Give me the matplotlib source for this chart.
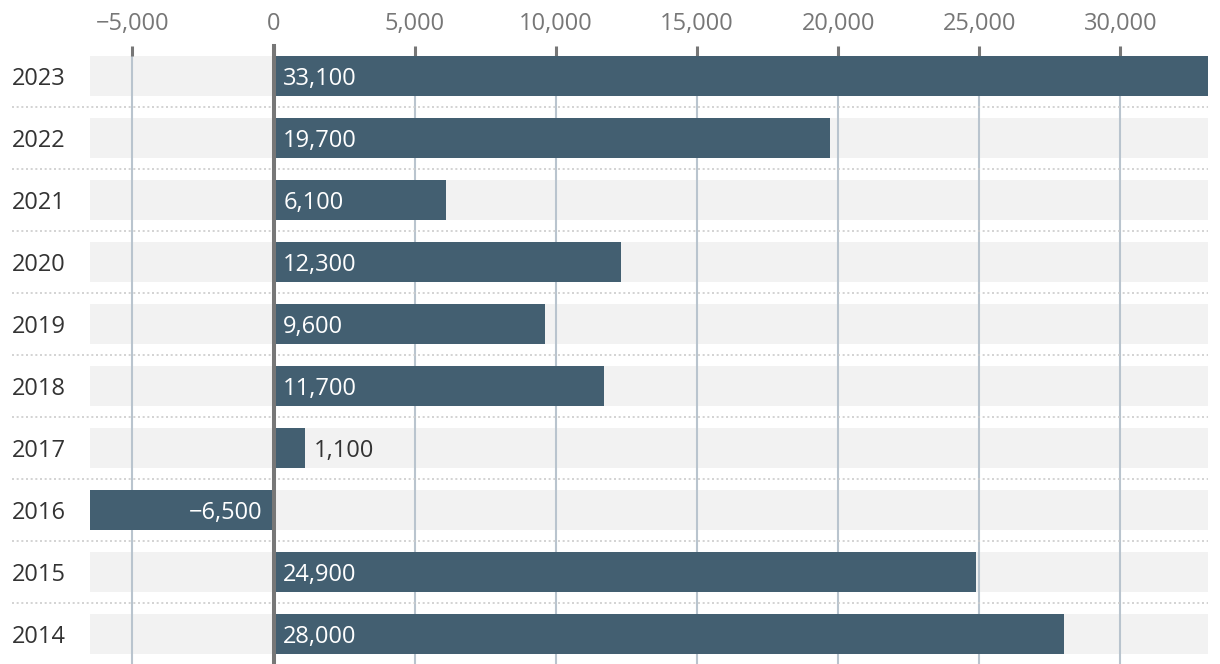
import matplotlib
matplotlib.use("Agg")
import matplotlib.pyplot as plt
import matplotlib.transforms as mtrans

years = ["2023", "2022", "2021", "2020", "2019", "2018", "2017", "2016", "2015", "2014"]
values = [33100, 19700, 6100, 12300, 9600, 11700, 1100, -6500, 24900, 28000]
ticks = [-5000, 0, 5000, 10000, 15000, 20000, 25000, 30000]
tick_labels = ["\u22125,000", "0", "5,000", "10,000", "15,000", "20,000", "25,000", "30,000"]

plt.rcParams['font.family'] = ['Open Sans', 'DejaVu Sans']

W, H = 1220, 664
fig = plt.figure(figsize=(W / 100, H / 100), dpi=100)
ax = fig.add_axes([90 / W, 0, 1118 / W, (H - 46) / H])

XMIN, XMAX = -6500, 33100
ax.set_xlim(XMIN, XMAX)
ax.set_ylim(9.4839, -0.4839)

bar_color = "#435f71"
band_h = 40 / 61.8
n = len(years)
ypos = list(range(n))
FS = 17

# background bands
ax.barh(ypos, [XMAX - XMIN] * n, left=XMIN, height=band_h, color="#f2f2f2", zorder=0)

# gridlines
for t in ticks:
    if t != 0:
        ax.plot([t, t], [-band_h / 2, 9.4839], color="#b9c4ce", lw=1.5, zorder=1, clip_on=False)

# bars
ax.barh(ypos, values, height=band_h, color=bar_color, zorder=2, left=0)

# zero line
ax.plot([0, 0], [-0.4839, 9.4839], color="#777777", lw=2.9, zorder=4, clip_on=False)

# dotted separators
trans = mtrans.blended_transform_factory(ax.transAxes, ax.transData)
x0 = (12 - 90) / 1118
for i in range(n - 1):
    ax.plot([x0, 1], [i + 0.5, i + 0.5], transform=trans, color="#cccccc", lw=1.2,
            ls=(0, (1.2, 1.6)), clip_on=False, zorder=1)

# year labels
for i, y in enumerate(years):
    ax.text(x0, i, y, transform=trans, ha="left", va="center_baseline", fontsize=FS, color="#333333")

# value labels
for i, v in enumerate(values):
    s = f"{abs(v):,}"
    if v < 0:
        s = "\u2212" + s
        ax.annotate(s, (0, i), xytext=(-8, 0), textcoords="offset points", ha="right",
                    va="center_baseline", fontsize=FS, color="white", zorder=5)
    elif v < 3000:
        ax.annotate(s, (v, i), xytext=(7, 0), textcoords="offset points", ha="left",
                    va="center_baseline", fontsize=FS, color="#333333", zorder=5)
    else:
        ax.annotate(s, (0, i), xytext=(7, 0), textcoords="offset points", ha="left",
                    va="center_baseline", fontsize=FS, color="white", zorder=5)

ax.xaxis.tick_top()
ax.set_xticks(ticks)
ax.set_xticklabels(tick_labels)
ax.tick_params(axis="x", direction="in", length=7.5, width=2.2, color="#777777",
               labelcolor="#777777", labelsize=FS, pad=7)
ax.tick_params(axis="y", left=False, labelleft=False)
for sp in ax.spines.values():
    sp.set_visible(False)

fig.savefig("out.png", dpi=100)
